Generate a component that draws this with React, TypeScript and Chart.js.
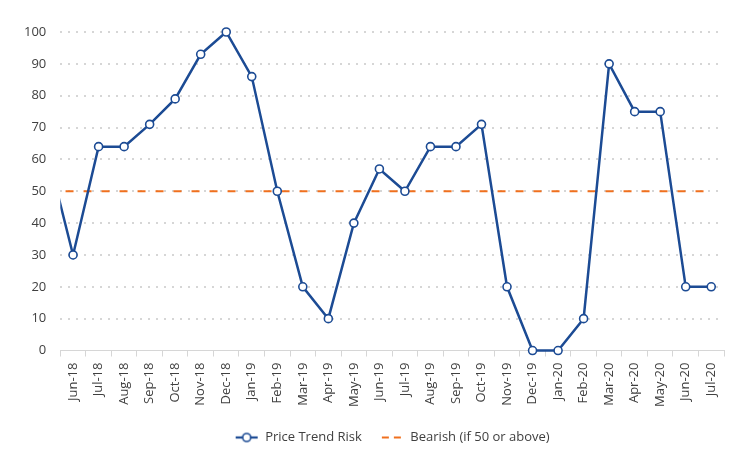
import React, { useEffect, useRef } from "react";
import { Chart, registerables } from "chart.js";

Chart.register(...registerables);

const months = [
  "May-18", "Jun-18", "Jul-18", "Aug-18", "Sep-18", "Oct-18", "Nov-18", "Dec-18",
  "Jan-19", "Feb-19", "Mar-19", "Apr-19", "May-19", "Jun-19", "Jul-19", "Aug-19",
  "Sep-19", "Oct-19", "Nov-19", "Dec-19", "Jan-20", "Feb-20", "Mar-20", "Apr-20",
  "May-20", "Jun-20", "Jul-20", "Aug-20",
];
const firstShown = "Jun-18";
const lastShown = "Jul-20";

const priceTrendRisk: (number | null)[] = [
  62, 30, 64, 64, 71, 79, 93, 100,
  86, 50, 20, 10, 40, 57, 50, 64,
  64, 71, 20, 0, 0, 10, 90, 75,
  75, 20, 20, null,
];
const bearishLevel = months.map(() => 50);

const yTicks = [0, 10, 20, 30, 40, 50, 60, 70, 80, 90, 100];

const BLUE = "#1c4b94";
const ORANGE = "#f0701e";
const TEXT = "#404040";
const GRID = "#d6d6d6";

function makeLineMarker(): HTMLCanvasElement {
  const c = document.createElement("canvas");
  c.width = 24;
  c.height = 12;
  const ctx = c.getContext("2d")!;
  ctx.strokeStyle = BLUE;
  ctx.lineWidth = 2.2;
  ctx.beginPath();
  ctx.moveTo(1, 6);
  ctx.lineTo(23, 6);
  ctx.stroke();
  ctx.beginPath();
  ctx.arc(12, 6, 4, 0, Math.PI * 2);
  ctx.fillStyle = "#fff";
  ctx.fill();
  ctx.lineWidth = 1.6;
  ctx.stroke();
  return c;
}

function makeDashMarker(): HTMLCanvasElement {
  const c = document.createElement("canvas");
  c.width = 24;
  c.height = 12;
  const ctx = c.getContext("2d")!;
  ctx.strokeStyle = ORANGE;
  ctx.lineWidth = 2;
  ctx.beginPath();
  ctx.moveTo(2, 6);
  ctx.lineTo(9, 6);
  ctx.moveTo(14, 6);
  ctx.lineTo(21, 6);
  ctx.stroke();
  return c;
}

export default function App() {
  const ref = useRef<HTMLCanvasElement>(null);

  useEffect(() => {
    if (!ref.current) return;
    const lineMarker = makeLineMarker();
    const dashMarker = makeDashMarker();
    const font = { family: "'Open Sans', sans-serif", size: 13 };
    const chart = new Chart(ref.current, {
      type: "line",
      data: {
        labels: months,
        datasets: [
          {
            label: "Price Trend Risk",
            data: priceTrendRisk,
            borderColor: BLUE,
            backgroundColor: "#fff",
            borderWidth: 2.5,
            pointStyle: "circle",
            pointRadius: priceTrendRisk.map((_, i) => (i === 0 ? 0 : 4)),
            pointBorderWidth: 1.6,
            pointBackgroundColor: "#fff",
            pointBorderColor: BLUE,
            tension: 0,
            clip: { left: 0, right: 0, top: false, bottom: false } as any,
          },
          {
            label: "Bearish (if 50 or above)",
            data: bearishLevel,
            borderColor: ORANGE,
            borderWidth: 2,
            borderDash: [8, 10],
            pointRadius: 0,
            clip: 0 as any,
          },
        ],
      },
      options: {
        animation: false,
        responsive: true,
        maintainAspectRatio: false,
        layout: { padding: { top: 32, right: 24, bottom: 14, left: 10 } },
        plugins: {
          tooltip: { enabled: false },
          legend: {
            position: "bottom",
            fullSize: false,
            labels: {
              usePointStyle: true,
              pointStyleWidth: 24,
              boxHeight: 12,
              font,
              color: TEXT,
              padding: 18,
              generateLabels: (ch: any) =>
                ch.data.datasets.map((ds: any, i: number) => ({
                  text: ds.label,
                  pointStyle: i === 0 ? lineMarker : dashMarker,
                  datasetIndex: i,
                  fontColor: TEXT,
                  lineWidth: 0,
                  strokeStyle: "transparent",
                  fillStyle: "transparent",
                  hidden: false,
                })),
            },
          },
        },
        scales: {
          x: {
            type: "category",
            min: firstShown,
            max: lastShown,
            offset: true,
            grid: {
              display: true,
              drawOnChartArea: false,
              drawTicks: true,
              tickLength: 6,
              color: GRID,
              offset: true,
            },
            border: { display: true, color: GRID, width: 1 },
            ticks: {
              font,
              color: TEXT,
              maxRotation: 90,
              minRotation: 90,
              autoSkip: false,
              padding: 6,
            },
          },
          y: {
            min: 0,
            max: 100,
            afterBuildTicks: (axis: any) => {
              axis.ticks = yTicks.map((v) => ({ value: v }));
            },
            grid: {
              color: (ctx: any) => (ctx.tick && ctx.tick.value === 0 ? "rgba(0,0,0,0)" : GRID),
              lineWidth: 2,
              drawTicks: false,
            },
            border: { display: false, dash: [2, 6] },
            ticks: { font, color: TEXT, padding: 14 },
          },
        },
      },
    } as any);
    return () => chart.destroy();
  }, []);

  return (
    <div style={{ position: "absolute", left: 0, top: 0, width: 748, height: 468, background: "#fff" }}>
      <canvas ref={ref} />
    </div>
  );
}
